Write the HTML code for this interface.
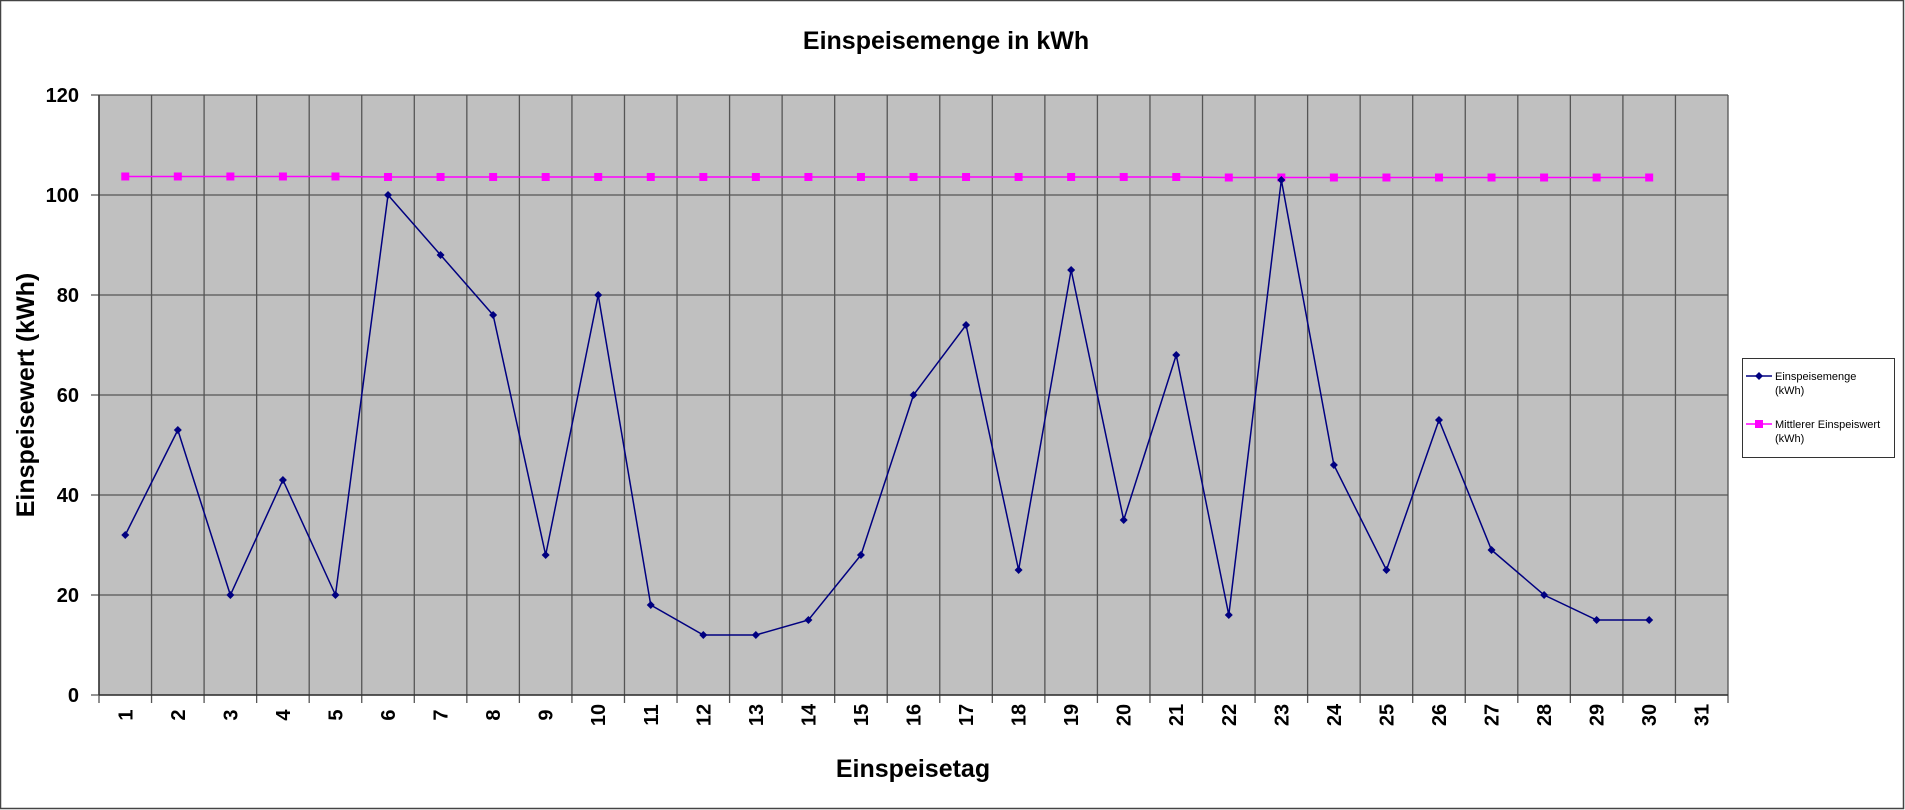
<!DOCTYPE html>
<html><head><meta charset="utf-8"><style>
html,body{margin:0;padding:0;background:#fff;}
svg{display:block;font-family:"Liberation Sans",Arial,sans-serif;}
</style></head><body>
<svg id="chart" width="1905" height="810">
<rect x="0.5" y="0.5" width="1903" height="808" fill="#fff" stroke="#444" stroke-width="1.5"/>
<text x="946" y="49" text-anchor="middle" font-size="25" font-weight="bold">Einspeisemenge in kWh</text>
<text transform="translate(34,395) rotate(-90)" text-anchor="middle" font-size="25" font-weight="bold">Einspeisewert  (kWh)</text>
<text x="913" y="777" text-anchor="middle" font-size="25" font-weight="bold">Einspeisetag</text>
<g id="plot"></g>
<g>
<rect x="1742.5" y="358.5" width="152" height="99" fill="#fff" stroke="#333"/>
<g>
<line x1="1746" y1="376" x2="1772" y2="376" stroke="#000080" stroke-width="1.5"/>
<path d="M1759 372 L1763 376 L1759 380 L1755 376Z" fill="#000080"/>
<text x="1775" y="380" font-size="11">Einspeisemenge</text>
<text x="1775" y="394" font-size="11">(kWh)</text>
</g>
<g>
<line x1="1746" y1="424" x2="1772" y2="424" stroke="#ff00ff" stroke-width="1.5"/>
<rect x="1755" y="420" width="8" height="8" fill="#ff00ff"/>
<text x="1775" y="428" font-size="11">Mittlerer Einspeiswert</text>
<text x="1775" y="442" font-size="11">(kWh)</text>
</g>
</g>
</svg>
<script>
const categories = [1,2,3,4,5,6,7,8,9,10,11,12,13,14,15,16,17,18,19,20,21,22,23,24,25,26,27,28,29,30,31];
const einspeisemenge = [32,53,20,43,20,100,88,76,28,80,18,12,12,15,28,60,74,25,85,35,68,16,103,46,25,55,29,20,15,15];
const mittlererWert = [103.7,103.7,103.7,103.7,103.7,103.6,103.6,103.6,103.6,103.6,103.6,103.6,103.6,103.6,103.6,103.6,103.6,103.6,103.6,103.6,103.6,103.5,103.5,103.5,103.5,103.5,103.5,103.5,103.5,103.5];
const yTicks = [0,20,40,60,80,100,120];

const NS="http://www.w3.org/2000/svg";
const L=99,R=1728,T=95,B=695,yMax=120;
const bw=(R-L)/categories.length;
const xC=i=>L+bw*(i+0.5);
const yS=v=>B-(v/yMax)*(B-T);
const g=document.getElementById('plot');
function mk(tag,attrs){const e=document.createElementNS(NS,tag);for(const k in attrs)e.setAttribute(k,attrs[k]);g.appendChild(e);return e;}

const bg=mk('rect',{x:L,y:T,width:R-L,height:B-T,fill:'#c0c0c0'});


yTicks.forEach(v=>{
  const ln=mk('line',{x1:L-8,x2:R,y1:yS(v),y2:yS(v),stroke:'#555','stroke-width':1.3});
  
  
  const t=mk('text',{x:79,y:yS(v)+7,'text-anchor':'end','font-size':20,'font-weight':'bold'});
  t.textContent=v;
  
  
});
for(let i=0;i<=categories.length;i++){
  const x=L+bw*i;
  const ln=mk('line',{x1:x,x2:x,y1:T,y2:B+8,stroke:'#555','stroke-width':1.3});
  
  
}
categories.forEach((c,i)=>{
  const t=mk('text',{transform:`translate(${xC(i)+7},715) rotate(-90)`,'text-anchor':'middle','font-size':20,'font-weight':'bold'});
  t.textContent=c;
  
  
});
const ax=mk('line',{x1:L,x2:L,y1:T,y2:B,stroke:'#333','stroke-width':1.5});


const axx=mk('line',{x1:L,x2:R,y1:B,y2:B,stroke:'#333','stroke-width':1.5});



const pm=mk('polyline',{points:mittlererWert.map((v,i)=>xC(i)+','+yS(v)).join(' '),fill:'none',stroke:'#ff00ff','stroke-width':1.5});


mittlererWert.forEach((v,i)=>{
  const r=mk('rect',{x:xC(i)-4,y:yS(v)-4,width:8,height:8,fill:'#ff00ff'});
  
  
});
const pe=mk('polyline',{points:einspeisemenge.map((v,i)=>xC(i)+','+yS(v)).join(' '),fill:'none',stroke:'#000080','stroke-width':1.5});


einspeisemenge.forEach((v,i)=>{
  const x=xC(i),y=yS(v);
  const p=mk('path',{d:`M${x} ${y-4} L${x+4} ${y} L${x} ${y+4} L${x-4} ${y}Z`,fill:'#000080'});
  
  
});
</script>
</body></html>
